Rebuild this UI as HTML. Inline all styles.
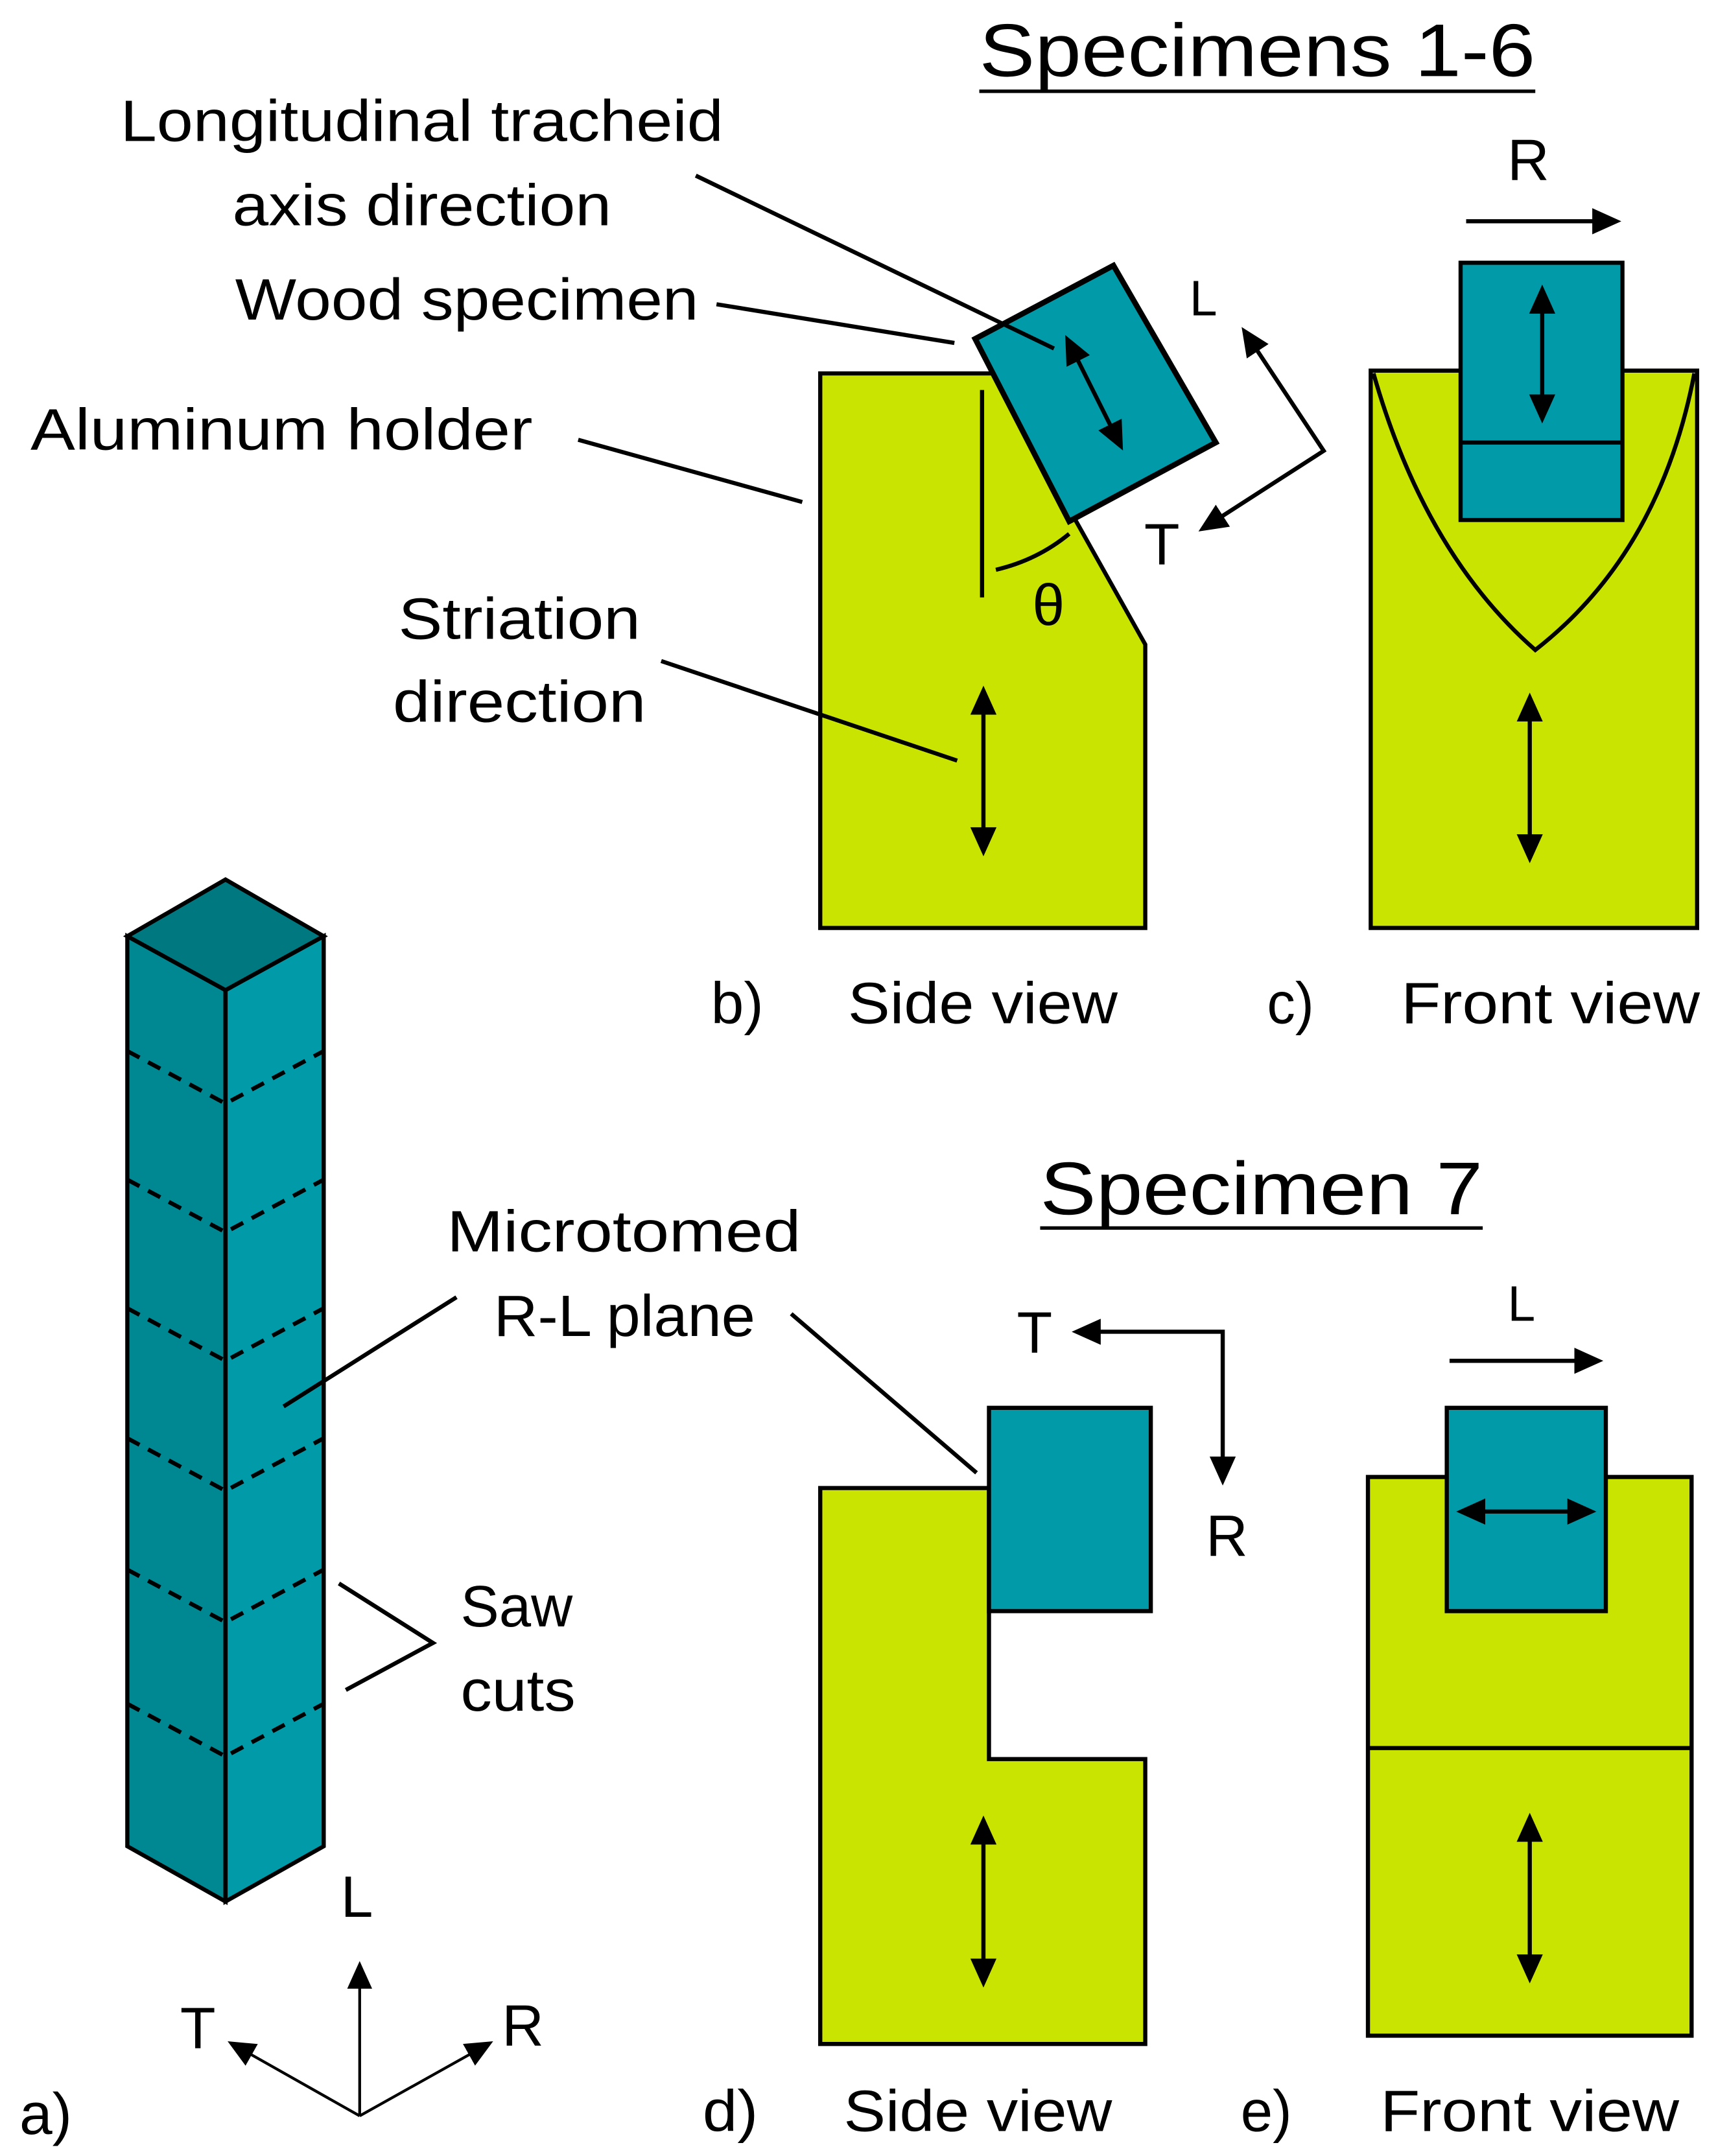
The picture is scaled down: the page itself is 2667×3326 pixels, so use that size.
<!DOCTYPE html>
<html><head><meta charset="utf-8"><style>html,body{margin:0;padding:0;background:#fff}svg{display:block}</style></head>
<body>
<svg width="2667" height="3326" viewBox="0 0 1250 1559" xmlns="http://www.w3.org/2000/svg" font-family="'Liberation Sans', sans-serif" font-size="42" fill="#000">
<defs>
<marker id="a" viewBox="0 0 10 10" refX="8" refY="5" markerWidth="7" markerHeight="7" orient="auto-start-reverse"><path d="M0,0.5 L10,5 L0,9.5 z" fill="#000"/></marker>
<marker id="b" viewBox="0 0 10 10" refX="8" refY="5" markerWidth="10" markerHeight="10" orient="auto-start-reverse"><path d="M0,0.5 L10,5 L0,9.5 z" fill="#000"/></marker>
</defs>
<g stroke="#000" stroke-width="3">
<!-- b -->
<polygon points="593,270 718,270 828,466 828,671 593,671" fill="#c8e400"/>
<line x1="710" y1="282" x2="710" y2="432"/>
<path d="M720,412 Q750,405 773,386" fill="none"/>
<polygon points="705,245 805,192 879,320 773,377" fill="#009aa8" stroke-width="4"/>
<line x1="772" y1="246" x2="810" y2="322" marker-start="url(#a)" marker-end="url(#a)"/>
<line x1="711" y1="500" x2="711" y2="615" marker-start="url(#a)" marker-end="url(#a)"/>
<polyline points="900,240 957,326 870,382" fill="none" marker-start="url(#a)" marker-end="url(#a)"/>
<!-- c -->
<rect x="991" y="268" width="236" height="403" fill="#c8e400"/>
<path d="M993,270 Q1030,400 1110,470 Q1200,400 1225,270" fill="none"/>
<rect x="1056" y="190" width="117" height="186" fill="#009aa8"/>
<line x1="1056" y1="320" x2="1173" y2="320"/>
<line x1="1115" y1="210" x2="1115" y2="302" marker-start="url(#a)" marker-end="url(#a)"/>
<line x1="1106" y1="505" x2="1106" y2="620" marker-start="url(#a)" marker-end="url(#a)"/>
<line x1="1060" y1="160" x2="1168" y2="160" marker-end="url(#a)"/>
<!-- d -->
<polygon points="593,1076 715,1076 715,1272 828,1272 828,1478 593,1478" fill="#c8e400"/>
<rect x="715" y="1018" width="117" height="147" fill="#009aa8"/>
<line x1="711" y1="1317" x2="711" y2="1433" marker-start="url(#a)" marker-end="url(#a)"/>
<polyline points="779,963 884,963 884,1070" fill="none" marker-start="url(#a)" marker-end="url(#a)"/>
<!-- e -->
<rect x="989" y="1068" width="234" height="404" fill="#c8e400"/>
<line x1="989" y1="1264" x2="1223" y2="1264"/>
<rect x="1046" y="1018" width="115" height="147" fill="#009aa8"/>
<line x1="1057" y1="1093" x2="1150" y2="1093" marker-start="url(#a)" marker-end="url(#a)"/>
<line x1="1106" y1="1315" x2="1106" y2="1430" marker-start="url(#a)" marker-end="url(#a)"/>
<line x1="1048" y1="984" x2="1155" y2="984" marker-end="url(#a)"/>
<!-- a column -->
<polygon points="92,677 163,636 234,677 163,716" fill="#007880"/>
<polygon points="92,677 163,716 163,1375 92,1335" fill="#008892"/>
<polygon points="163,716 234,677 234,1335 163,1375" fill="#009aa8"/>
<g stroke-dasharray="10,7" fill="none">
<polyline points="92,760 163,798 234,760"/>
<polyline points="92,853 163,891 234,853"/>
<polyline points="92,946 163,984 234,946"/>
<polyline points="92,1040 163,1078 234,1040"/>
<polyline points="92,1135 163,1173 234,1135"/>
<polyline points="92,1232 163,1270 234,1232"/>
</g>
<line x1="163" y1="716" x2="163" y2="1375"/>
<line x1="260" y1="1530" x2="260" y2="1422" stroke-width="2" marker-end="url(#b)"/>
<line x1="260" y1="1530" x2="168" y2="1478" stroke-width="2" marker-end="url(#b)"/>
<line x1="260" y1="1530" x2="353" y2="1478" stroke-width="2" marker-end="url(#b)"/>
<!-- leaders -->
<line x1="503" y1="127" x2="762" y2="252"/>
<line x1="518" y1="220" x2="690" y2="248"/>
<line x1="418" y1="318" x2="580" y2="363"/>
<line x1="478" y1="478" x2="692" y2="550"/>
<line x1="330" y1="938" x2="205" y2="1017"/>
<line x1="572" y1="950" x2="706" y2="1065"/>
<polyline points="245,1145 313,1188 250,1222" fill="none"/>
<!-- titles -->
<text x="708" y="55" font-size="54" textLength="402" lengthAdjust="spacingAndGlyphs" stroke="none">Specimens 1-6</text>
<line x1="708" y1="66" x2="1110" y2="66" stroke-width="2.5"/>
<text x="752" y="878" font-size="54" textLength="320" lengthAdjust="spacingAndGlyphs" stroke="none">Specimen 7</text>
<line x1="752" y1="888" x2="1072" y2="888" stroke-width="2.5"/>
</g>
<g lengthAdjust="spacingAndGlyphs">
<text x="87" y="102" textLength="436" lengthAdjust="spacingAndGlyphs">Longitudinal tracheid</text>
<text x="168" y="163" textLength="274" lengthAdjust="spacingAndGlyphs">axis direction</text>
<text x="170" y="231" textLength="335" lengthAdjust="spacingAndGlyphs">Wood specimen</text>
<text x="22" y="325" textLength="363" lengthAdjust="spacingAndGlyphs">Aluminum holder</text>
<text x="288" y="462" textLength="175" lengthAdjust="spacingAndGlyphs">Striation</text>
<text x="284" y="522" textLength="183" lengthAdjust="spacingAndGlyphs">direction</text>
<text x="514" y="740" textLength="38" lengthAdjust="spacingAndGlyphs">b)</text>
<text x="613" y="740" textLength="195" lengthAdjust="spacingAndGlyphs">Side view</text>
<text x="916" y="740" textLength="34" lengthAdjust="spacingAndGlyphs">c)</text>
<text x="1013" y="740" textLength="216" lengthAdjust="spacingAndGlyphs">Front view</text>
<text x="323" y="905" textLength="256" lengthAdjust="spacingAndGlyphs">Microtomed</text>
<text x="357" y="966" textLength="189" lengthAdjust="spacingAndGlyphs">R-L plane</text>
<text x="333" y="1176" textLength="81" lengthAdjust="spacingAndGlyphs">Saw</text>
<text x="333" y="1237" textLength="83" lengthAdjust="spacingAndGlyphs">cuts</text>
<text x="508" y="1541" textLength="40" lengthAdjust="spacingAndGlyphs">d)</text>
<text x="610" y="1541" textLength="194" lengthAdjust="spacingAndGlyphs">Side view</text>
<text x="897" y="1541" textLength="37" lengthAdjust="spacingAndGlyphs">e)</text>
<text x="998" y="1541" textLength="216" lengthAdjust="spacingAndGlyphs">Front view</text>
<text x="14" y="1543" textLength="38" lengthAdjust="spacingAndGlyphs">a)</text>
<text x="1105" y="130" text-anchor="middle">R</text>
<text x="870" y="228" text-anchor="middle" font-size="36">L</text>
<text x="840" y="408" text-anchor="middle">T</text>
<text x="758" y="452" text-anchor="middle">θ</text>
<text x="748" y="978" text-anchor="middle">T</text>
<text x="887" y="1125" text-anchor="middle">R</text>
<text x="1100" y="955" text-anchor="middle" font-size="36">L</text>
<text x="258" y="1386" text-anchor="middle">L</text>
<text x="143" y="1481" text-anchor="middle">T</text>
<text x="378" y="1479" text-anchor="middle">R</text>
</g>
</svg>
</body></html>
